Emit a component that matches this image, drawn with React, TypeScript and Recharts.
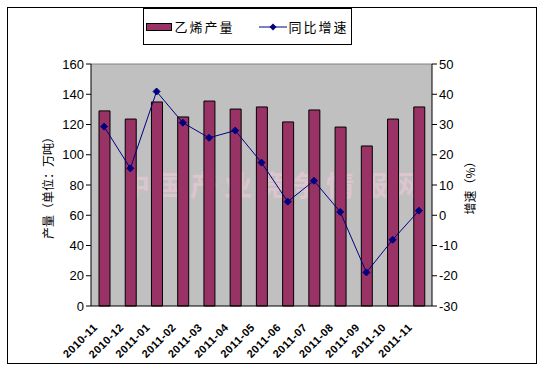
import { ComposedChart, Bar, Line, XAxis, YAxis, CartesianGrid, ReferenceLine } from "recharts";

const months = [
  "2010-11", "2010-12", "2011-01", "2011-02", "2011-03", "2011-04", "2011-05",
  "2011-06", "2011-07", "2011-08", "2011-09", "2011-10", "2011-11",
];
const output = [129, 123.6, 134.9, 125, 135.5, 130.2, 131.6, 121.7, 129.6, 118.3, 105.8, 123.6, 131.6];
const growth = [29.3, 15.5, 40.9, 30.6, 25.6, 28.0, 17.4, 4.5, 11.4, 1.1, -18.9, -8.1, 1.5];
const leftTicks = [0, 20, 40, 60, 80, 100, 120, 140, 160];
const rightTicks = [-30, -20, -10, 0, 10, 20, 30, 40, 50];

const data = months.map((m, i) => ({ month: m, 乙烯产量: output[i], 同比增速: growth[i] }));

const tickFont = { fontSize: 13, fill: "#000", fontFamily: "'Liberation Sans', Arial, sans-serif" };
const cjk = "'Noto Sans CJK SC', sans-serif";

function Diamond(props: any) {
  const { cx, cy } = props;
  if (cx == null || cy == null) return null;
  const s = 3.5;
  return (
    <polygon
      points={`${cx},${cy - s} ${cx + s},${cy} ${cx},${cy + s} ${cx - s},${cy}`}
      fill="#000080"
      stroke="#000080"
    />
  );
}

function MonthTick(props: any) {
  const { x, y, payload } = props;
  const tx = x - 6;
  const ty = y + 14;
  return (
    <text
      x={tx}
      y={ty}
      transform={`rotate(-45 ${tx} ${ty})`}
      textAnchor="end"
      fontSize={11}
      fontWeight="bold"
      letterSpacing={0.5}
      fontFamily="'Liberation Sans', Arial, sans-serif"
      fill="#000"
    >
      {payload.value}
    </text>
  );
}

function LegendBox() {
  return (
    <div
      style={{
        position: "absolute",
        left: 143,
        top: 8,
        border: "1px solid #000",
        background: "#fff",
        width: 209,
        height: 37,
        display: "flex",
        alignItems: "center",
        justifyContent: "center",
        gap: 24,
        fontFamily: cjk,
        fontSize: 13,
        letterSpacing: 2,
        boxSizing: "border-box",
        zIndex: 2,
      }}
    >
      <span style={{ display: "flex", alignItems: "center" }}>
        <span style={{ display: "inline-block", width: 24, height: 6, background: "#993366", border: "1px solid #000", marginRight: 2 }} />
        乙烯产量
      </span>
      <span style={{ display: "flex", alignItems: "center" }}>
        <svg width={28} height={10} style={{ marginRight: 2 }}>
          <line x1={0} y1={5} x2={28} y2={5} stroke="#000080" strokeWidth={1} />
          <polygon points="14,1.5 17.5,5 14,8.5 10.5,5" fill="#000080" />
        </svg>
        同比增速
      </span>
    </div>
  );
}

export default function App() {
  return (
    <div style={{ position: "absolute", left: 0, top: 0, width: 543, height: 375, background: "#fff" }}>
      <div
        style={{
          position: "absolute",
          left: 7,
          top: 7,
          width: 530,
          height: 357,
          border: "1px solid #000",
          boxSizing: "border-box",
        }}
      />
      <LegendBox />
      <ComposedChart
        width={543}
        height={375}
        data={data}
        margin={{ top: 64, right: 71, left: 51, bottom: 19 }}
        style={{ position: "absolute", left: 0, top: 0 }}
      >
        <CartesianGrid fill="#C0C0C0" horizontal={false} vertical={false} yAxisId="left" />
        <XAxis
          dataKey="month"
          interval={0}
          height={50}
          tick={<MonthTick />}
          tickLine={false}
          axisLine={{ stroke: "#000" }}
        />
        <YAxis
          yAxisId="left"
          domain={[0, 160]}
          ticks={leftTicks}
          width={40}
          tick={tickFont}
          tickLine={{ stroke: "#000" }}
          tickSize={5}
          axisLine={{ stroke: "#000" }}
          label={{
            value: "产量（单位：万吨）",
            angle: -90,
            position: "insideLeft",
            offset: -2,
            style: { fontFamily: cjk, fontSize: 12, fill: "#000", textAnchor: "middle" },
          }}
        />
        <YAxis
          yAxisId="right"
          orientation="right"
          domain={[-30, 50]}
          ticks={rightTicks}
          width={40}
          tick={tickFont}
          tickLine={{ stroke: "#000" }}
          tickSize={5}
          axisLine={{ stroke: "#000" }}
          label={{
            value: "增速（%）",
            angle: -90,
            position: "insideRight",
            offset: 1,
            style: { fontFamily: cjk, fontSize: 12, fill: "#000", textAnchor: "middle" },
          }}
        />
        <ReferenceLine yAxisId="left" y={160} stroke="#808080" />
        <Bar
          yAxisId="left"
          dataKey="乙烯产量"
          fill="#993366"
          stroke="#000"
          strokeWidth={1}
          barSize={11}
          isAnimationActive={false}
        />
        <Line
          yAxisId="right"
          dataKey="同比增速"
          stroke="#000080"
          strokeWidth={1}
          dot={<Diamond />}
          activeDot={false}
          isAnimationActive={false}
        />
        <text
          x={275}
          y={196}
          textAnchor="middle"
          fontFamily={cjk}
          fontSize={28}
          fontWeight="bold"
          fill="#e8c8d4"
          opacity={0.7}
          letterSpacing={6}
        >
          中国产业竞争情报网
        </text>
      </ComposedChart>
    </div>
  );
}
